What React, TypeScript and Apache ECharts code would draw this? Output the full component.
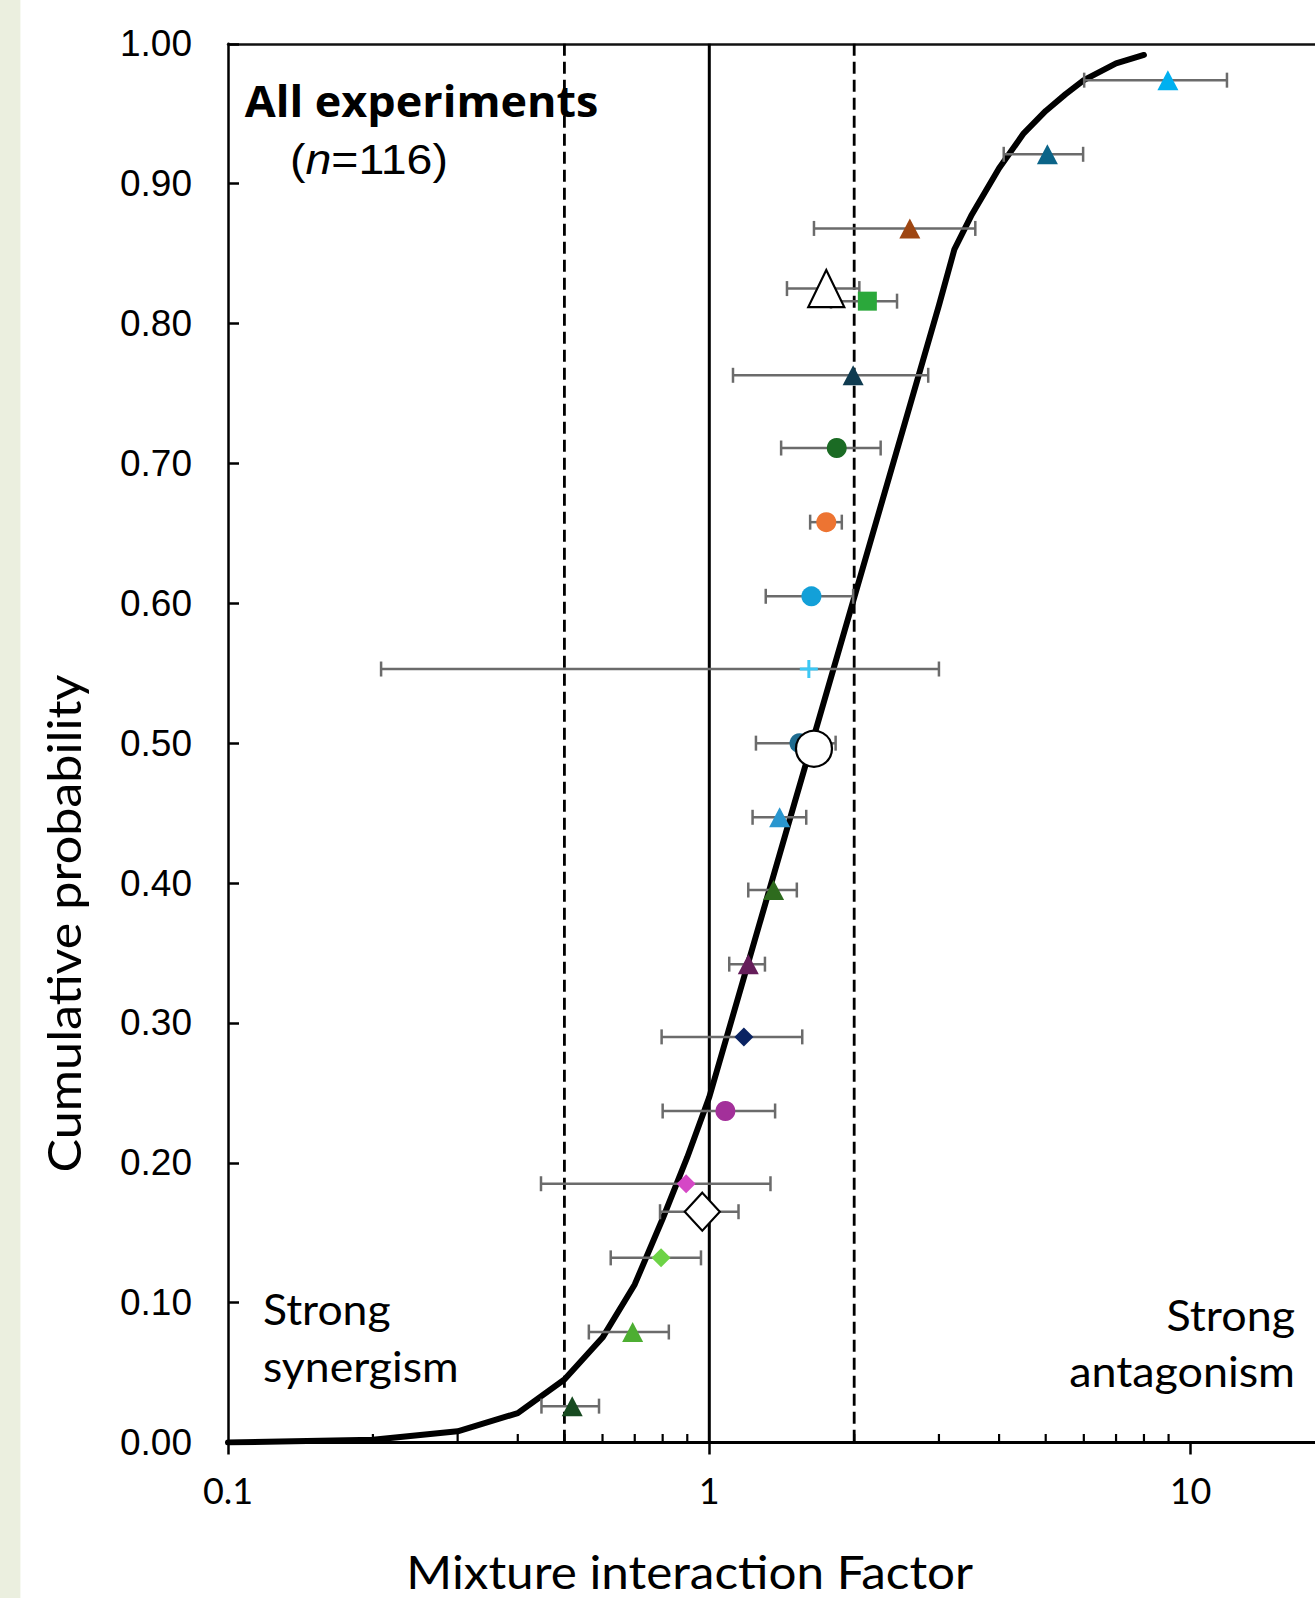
import React, { useEffect, useRef } from "react";
import * as echarts from "echarts";

// Cumulative distribution curve
const curveX = [0.1, 0.2, 0.3, 0.4, 0.5, 0.6, 0.7, 0.8, 0.9, 1.0, 1.5, 2.0, 2.5, 3.0, 3.23, 3.5, 4.0, 4.5, 5.0, 5.5, 6.0, 7.0, 8.0];
const curveY = [0, 0.002, 0.008, 0.021, 0.045, 0.075, 0.113, 0.16, 0.204, 0.247, 0.456, 0.604, 0.719, 0.813, 0.853, 0.877, 0.911, 0.936, 0.952, 0.964, 0.974, 0.986, 0.992];

// Individual groups: median MIF, cumulative probability, error-bar range
const pointX = [8.97, 5.04, 2.61, 2.13, 1.99, 1.84, 1.75, 1.63, 1.61, 1.54, 1.40, 1.36, 1.205, 1.18, 1.08, 0.895, 0.794, 0.693, 0.519];
const pointY = [0.974, 0.921, 0.868, 0.816, 0.763, 0.711, 0.658, 0.605, 0.553, 0.5, 0.447, 0.395, 0.342, 0.29, 0.237, 0.185, 0.132, 0.079, 0.026];
const pointLow = [6.01, 4.09, 1.65, 1.79, 1.12, 1.41, 1.62, 1.31, 0.208, 1.25, 1.23, 1.205, 1.1, 0.796, 0.8, 0.447, 0.624, 0.562, 0.448];
const pointHigh = [11.9, 5.98, 3.57, 2.455, 2.85, 2.27, 1.885, 1.99, 3.0, 1.83, 1.59, 1.52, 1.305, 1.56, 1.37, 1.34, 0.961, 0.824, 0.59];
const pointSymbols = ["triangle", "triangle", "triangle", "rect", "triangle", "circle", "circle", "circle", "plus", "circle", "triangle", "triangle", "triangle", "diamond", "circle", "diamond", "diamond", "triangle", "triangle"];
const pointColors = ["#00B0F0", "#0B6488", "#9E4612", "#2BA83B", "#0F3B50", "#1B6B24", "#ED7432", "#13A0D8", "#3CC8F5", "#1F6C90", "#2996CF", "#2E6B1E", "#651D5A", "#0A2362", "#A3309A", "#D548C6", "#6DD346", "#4DAE32", "#174A20"];

// Overall summary markers (white)
const summaryX = [1.75, 1.65, 0.967];
const summaryY = [0.825, 0.496, 0.165];
const summaryLow = [1.45, null, 0.79];
const summaryHigh = [2.05, null, 1.15];
const summarySymbols = ["triangle", "circle", "diamond"];

// Reference lines (strong synergism / additivity / strong antagonism)
const refLineX = [0.5, 1, 2];
const refLineDashed = [true, false, true];

// Minor ticks of the log axis
const minorTickX = [0.2, 0.3, 0.4, 0.5, 0.6, 0.7, 0.8, 0.9, 2, 3, 4, 5, 6, 7, 8, 9, 20, 30, 40, 50, 60, 70, 80, 90];

const PLUS = "path://M7.5,0H10.5V7.5H18V10.5H10.5V18H7.5V10.5H0V7.5H7.5Z";
const CHART_W = 1700;
const CHART_H = 1598;
const GRID_LEFT = 228;
const GRID_TOP = 43.8;
const GRID_BOTTOM = 155.5;
const DECADE = 481.3;

function symbolFor(s: string) {
  return s === "plus" ? PLUS : s;
}
function sizeFor(s: string): number | number[] {
  if (s === "triangle") return [21, 20];
  if (s === "circle") return 20;
  if (s === "rect") return 19;
  if (s === "diamond") return [19, 19];
  return 18;
}
function bigSizeFor(s: string): number | number[] {
  if (s === "triangle") return [36, 37];
  if (s === "circle") return 36;
  return [35, 38];
}

const renderErr = (params: any, api: any) => {
  const y = api.value(1);
  const a = api.coord([api.value(2), y]);
  const b = api.coord([api.value(3), y]);
  const c = 7.5;
  const style = { stroke: "#6B6B6B", lineWidth: 2.5, fill: null };
  return {
    type: "group",
    children: [
      { type: "line", shape: { x1: a[0], y1: a[1], x2: b[0], y2: b[1] }, style },
      { type: "line", shape: { x1: a[0], y1: a[1] - c, x2: a[0], y2: a[1] + c }, style },
      { type: "line", shape: { x1: b[0], y1: b[1] - c, x2: b[0], y2: b[1] + c }, style },
    ],
  };
};

export default function App() {
  const ref = useRef<HTMLDivElement>(null);
  useEffect(() => {
    if (!ref.current) return;
    const chart = echarts.init(ref.current, undefined, { renderer: "svg" });

    const errData: any[] = [];
    pointX.forEach((x, i) => errData.push([x, pointY[i], pointLow[i], pointHigh[i]]));
    summaryX.forEach((x, i) => {
      if (summaryLow[i] != null && summaryHigh[i] != null) errData.push([x, summaryY[i], summaryLow[i], summaryHigh[i]]);
    });

    const option: any = {
      animation: false,
      backgroundColor: "#ffffff",
      grid: {
        left: GRID_LEFT,
        top: GRID_TOP,
        width: DECADE * 3,
        bottom: GRID_BOTTOM,
        containLabel: false,
      },
      xAxis: [
        {
          type: "log",
          logBase: 10,
          min: 0.1,
          max: 100,
          position: "bottom",
          axisLine: { show: true, lineStyle: { color: "#000", width: 3 } },
          axisTick: { show: true, inside: false, length: 12, lineStyle: { color: "#000", width: 2.5 } },
          minorTick: { show: false },
          splitLine: { show: false },
          axisLabel: {
            margin: 29,
            fontSize: 36,
            lineHeight: 36,
            fontFamily: "Lato",
            color: "#000",
            formatter: (v: number) => (v > 50 ? "" : String(v)),
          },
        },
        {
          type: "log",
          logBase: 10,
          min: 0.1,
          max: 100,
          position: "top",
          axisLine: { show: true, lineStyle: { color: "#111", width: 2.5 } },
          axisTick: { show: false },
          axisLabel: { show: false },
          splitLine: { show: false },
        },
      ],
      yAxis: {
        type: "value",
        min: 0,
        max: 1,
        interval: 0.1,
        axisLine: { show: true, lineStyle: { color: "#000", width: 2.5 } },
        axisTick: { show: true, inside: true, length: 11, lineStyle: { color: "#000", width: 2.5 } },
        splitLine: { show: false },
        axisLabel: {
          margin: 36,
          fontSize: 37,
          fontFamily: "Liberation Sans",
          color: "#000",
          formatter: (v: number) => v.toFixed(2),
        },
      },
      graphic: [
        { type: "rect", silent: true, z: -10, shape: { x: 0, y: 0, width: 20.4, height: CHART_H }, style: { fill: "#EBEFDF" } },
        {
          type: "text", x: 244.7, y: 100, z: 10, scaleX: 1.045,
          style: { text: "All experiments", fontFamily: "Open Sans", fontWeight: "bold", fontSize: 43, fill: "#000", align: "left", verticalAlign: "middle" },
        },
        {
          type: "text", x: 290, y: 158.7, z: 10, scaleX: 1.08,
          style: {
            text: "({i|n}=116)", fontFamily: "Liberation Sans", fontSize: 43, fill: "#000", align: "left", verticalAlign: "middle",
            rich: { i: { fontFamily: "Liberation Sans", fontSize: 43, fontStyle: "italic", fill: "#000" } },
          },
        },
        {
          type: "text", x: 263, y: 1337, z: 10, scaleX: 1.06,
          style: { text: "Strong\nsynergism", fontFamily: "Lato", fontSize: 42, lineHeight: 56.6, fill: "#000", align: "left", verticalAlign: "middle" },
        },
        {
          type: "text", x: 1295, y: 1342.5, z: 10, scaleX: 1.068,
          style: { text: "Strong\nantagonism", fontFamily: "Lato", fontSize: 42, lineHeight: 56.6, fill: "#000", align: "right", verticalAlign: "middle" },
        },
        {
          type: "text", x: 689.7, y: 1571, z: 10, scaleX: 1.075,
          style: { text: "Mixture interaction Factor", fontFamily: "Lato", fontSize: 46, lineHeight: 44, fill: "#000", align: "center", verticalAlign: "middle" },
        },
        {
          type: "text", x: 63, y: 923.5, rotation: Math.PI / 2, z: 10, scaleX: 1.07,
          style: { text: "Cumulative probability", fontFamily: "Lato", fontSize: 47, fill: "#000", align: "center", verticalAlign: "middle" },
        },
      ],
      series: [
        {
          name: "refLines",
          type: "custom",
          z: 1,
          clip: false,
          silent: true,
          data: refLineX.map((x, i) => [x, 0, refLineDashed[i] ? 1 : 0]),
          encode: { x: 0, y: 1 },
          renderItem: (params: any, api: any) => {
            const x = api.value(0);
            const top = api.coord([x, 1]);
            const bot = api.coord([x, 0]);
            const dashed = api.value(2) === 1;
            return {
              type: "line",
              shape: { x1: top[0], y1: top[1], x2: bot[0], y2: bot[1] },
              style: { stroke: "#000", lineWidth: dashed ? 2.8 : 3, lineDash: dashed ? [12, 6] : null, fill: null },
            };
          },
        },
        {
          name: "minorTicks",
          type: "custom",
          z: 1,
          clip: false,
          silent: true,
          data: minorTickX.map((x) => [x, 0]),
          encode: { x: 0, y: 1 },
          renderItem: (params: any, api: any) => {
            const p = api.coord([api.value(0), api.value(1)]);
            return {
              type: "line",
              shape: { x1: p[0], y1: p[1], x2: p[0], y2: p[1] - 8.5 },
              style: { stroke: "#000", lineWidth: 2.2, fill: null },
            };
          },
        },
        {
          name: "Cumulative distribution",
          type: "line",
          z: 2,
          data: curveX.map((x, i) => [x, curveY[i]]),
          symbol: "none",
          smooth: false,
          silent: true,
          lineStyle: { color: "#000", width: 6, cap: "round", join: "round" },
        },
        {
          name: "Error bars",
          type: "custom",
          z: 3,
          clip: false,
          silent: true,
          data: errData,
          encode: { x: 0, y: 1 },
          renderItem: renderErr,
        },
        {
          name: "Groups",
          type: "scatter",
          z: 4,
          silent: true,
          data: pointX.map((x, i) => ({
            value: [x, pointY[i]],
            symbol: symbolFor(pointSymbols[i]),
            symbolSize: sizeFor(pointSymbols[i]),
            itemStyle: { color: pointColors[i], borderWidth: 0, opacity: 1 },
          })),
        },
        {
          name: "Overall",
          type: "scatter",
          z: 5,
          silent: true,
          data: summaryX.map((x, i) => ({
            value: [x, summaryY[i]],
            symbol: summarySymbols[i],
            symbolSize: bigSizeFor(summarySymbols[i]),
            itemStyle: { color: "#ffffff", borderColor: "#000", borderWidth: 2.2, opacity: 1 },
          })),
        },
      ],
    };
    chart.setOption(option);
    return () => chart.dispose();
  }, []);

  return (
    <div style={{ position: "fixed", left: 0, top: 0, width: 1315, height: 1598, overflow: "hidden", background: "#fff" }}>
      <div ref={ref} style={{ width: CHART_W, height: CHART_H }} />
    </div>
  );
}
